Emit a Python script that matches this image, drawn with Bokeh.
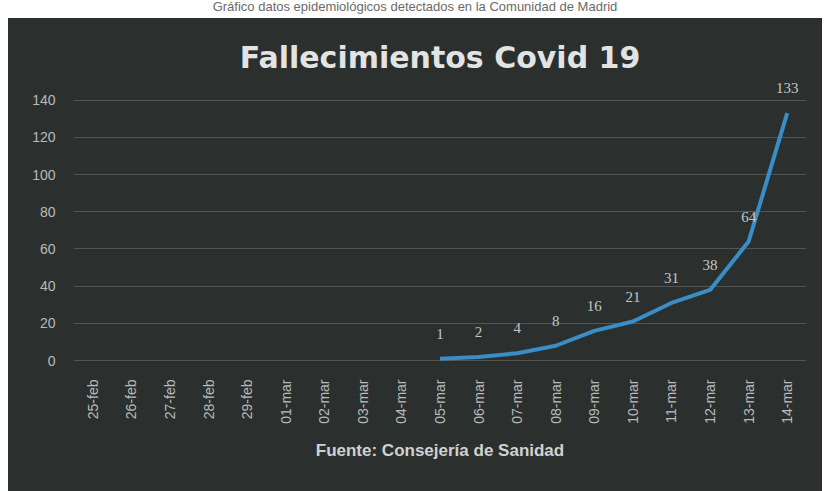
from bokeh.plotting import figure
from bokeh.models import Div, FixedTicker, ColumnDataSource
from bokeh.layouts import column
from bokeh.core.properties import value
from bokeh.embed import file_html
from bokeh.resources import INLINE
from math import pi

dates = ["25-feb", "26-feb", "27-feb", "28-feb", "29-feb", "01-mar", "02-mar",
         "03-mar", "04-mar", "05-mar", "06-mar", "07-mar", "08-mar", "09-mar",
         "10-mar", "11-mar", "12-mar", "13-mar", "14-mar"]
data_dates = ["05-mar", "06-mar", "07-mar", "08-mar", "09-mar",
              "10-mar", "11-mar", "12-mar", "13-mar", "14-mar"]
deaths = [1, 2, 4, 8, 16, 21, 31, 38, 64, 133]
y_ticks = [0, 20, 40, 60, 80, 100, 120, 140]

title_text = "Fallecimientos Covid 19"
source_text = "Fuente: Consejería de Sanidad"
header_text = "Gráfico datos epidemiológicos detectados en la Comunidad de Madrid"

bg = "#2b302f"

p = figure(x_range=dates, y_range=(-1, 150), width=814, height=473,
           output_backend="svg", toolbar_location=None,
           min_border_left=65, min_border_right=16,
           min_border_top=63, min_border_bottom=129,
           background_fill_color=None, border_fill_color=None,
           styles={"background-color": bg})
p.outline_line_color = None
p.x_range.range_padding = 0

p.title.text = title_text
p.title.align = "center"
p.title.text_color = "#e2e4e3"
p.title.text_font = "DejaVu Sans"
p.title.text_font_size = "30px"
p.title.text_font_style = "bold"
p.title.standoff = 14

src = ColumnDataSource(dict(x=data_dates, y=deaths, lab=[str(v) for v in deaths]))
p.line("x", "y", source=src, line_color="#3a8dc6", line_width=4)
p.text("x", "y", text="lab", source=src, y_offset=-25,
       text_align="center", text_baseline="middle",
       text_color="#c4c6c5", text_font=value("Liberation Serif"),
       text_font_size="15px")

p.yaxis.ticker = FixedTicker(ticks=y_ticks)
p.ygrid.ticker = FixedTicker(ticks=y_ticks)
p.ygrid.grid_line_color = "#8a8f8e"
p.ygrid.grid_line_alpha = 0.4
p.ygrid.grid_line_width = 1
p.xgrid.grid_line_color = None

for ax in (p.xaxis, p.yaxis):
    ax.axis_line_color = None
    ax.major_tick_line_color = None
    ax.minor_tick_line_color = None
    ax.major_label_text_color = "#b8bbba"
    ax.major_label_text_font = "Liberation Sans"

p.yaxis.major_label_text_font_size = "14px"
p.xaxis.major_label_text_font_size = "14px"
p.yaxis.major_label_standoff = 12
p.xaxis.major_label_orientation = pi / 2
p.xaxis.major_label_standoff = 11
p.xaxis.axis_label = source_text
p.xaxis.axis_label_text_color = "#d0d2d1"
p.xaxis.axis_label_text_font = "Liberation Sans"
p.xaxis.axis_label_text_font_style = "bold"
p.xaxis.axis_label_text_font_size = "17px"
p.xaxis.axis_label_standoff = 14

header = Div(text=header_text, width=814, height=18, margin=0,
             styles={"font-family": "Liberation Sans", "font-size": "13px",
                     "line-height": "14px", "color": "#6a6a6a",
                     "text-align": "center", "overflow": "hidden"})

layout = column(header, p, spacing=0, margin=(0, 0, 0, 8))
open("out.html", "w").write(file_html(layout, INLINE))
